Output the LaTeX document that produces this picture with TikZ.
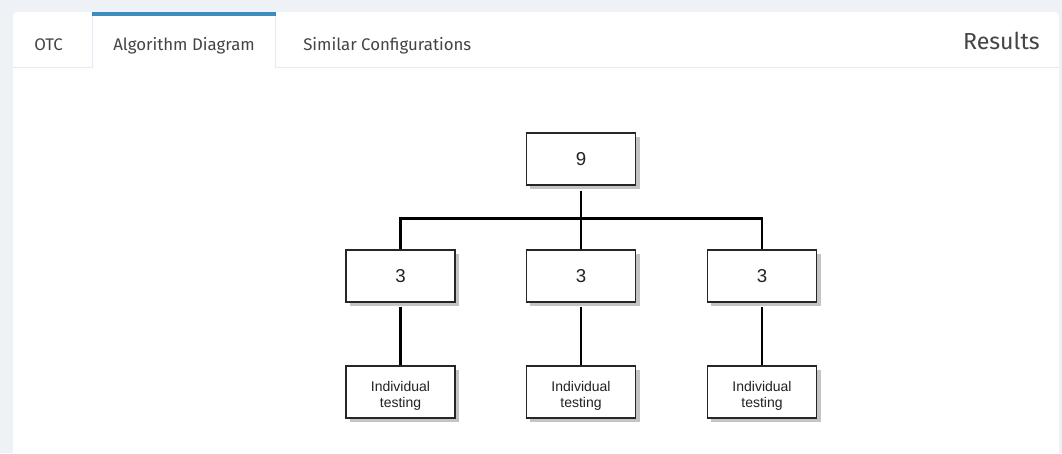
\documentclass[tikz,border=0pt]{standalone}
\usepackage{fontspec}
\setmainfont{Liberation Sans}
\newfontfamily\tabfont{Fira Sans}
\usetikzlibrary{shadows}
\definecolor{pagebg}{HTML}{EEF1F5}
\definecolor{panelline}{HTML}{E6EAF0}
\definecolor{tabblue}{HTML}{3C8DBC}
\definecolor{tabtext}{HTML}{444444}
\definecolor{boxtext}{HTML}{222222}
\definecolor{shadowgrey}{HTML}{C4C4C4}
\tikzset{
  px/.style={x=0.75pt,y=-0.75pt},
  diabox/.style={draw=black!85, line width=1.1pt, fill=white, minimum width=82pt, minimum height=39pt,
    inner sep=0pt, align=center, text=boxtext, font=\fontsize{14}{16}\selectfont,
    drop shadow={shadow xshift=3pt, shadow yshift=-3pt, fill=shadowgrey, opacity=1}},
  leafbox/.style={diabox, font=\fontsize{10.5}{12.2}\selectfont},
  conn/.style={line width=2pt, black},
  tablabel/.style={font=\tabfont\fontsize{12.6}{14}\selectfont, text=tabtext, inner sep=0pt, anchor=base west},
}
\begin{document}
\begin{tikzpicture}[px]
\useasboundingbox (0,0) rectangle (1062,453);
% page background and panel
\fill[pagebg] (0,0) rectangle (1062,453);
\fill[white, rounded corners=3pt] (13,12) rectangle (1059,470);
\draw[panelline, line width=0.75pt] (13,68) -- (92,68);
\draw[panelline, line width=0.75pt] (275,68) -- (1059,68);
% active tab
\draw[panelline, line width=0.75pt] (92,16) -- (92,68);
\draw[panelline, line width=0.75pt] (275,16) -- (275,68);
\fill[tabblue] (92,12.5) rectangle (276,16.5);
% tab labels
\node[tablabel] (tab1) at (34,50.5) {OTC};
\node[tablabel] (tab2) at (113,50.5) {Algorithm Diagram};
\node[tablabel] (tab3) at (303,50.5) {Similar Configurations};
\node[font=\tabfont\fontsize{17.4}{19}\selectfont, text=tabtext, inner sep=0pt, anchor=base east] (results) at (1040,50) {Results};
% diagram
\node[diabox] (root) at (581,159) {9};
\node[diabox] (m1) at (400.5,276) {3};
\node[diabox] (m2) at (581,276) {3};
\node[diabox] (m3) at (762,276) {3};
\node[leafbox] (l1) at (400.5,392) {\rule{0pt}{13pt}Individual\\testing};
\node[leafbox] (l2) at (581,392) {\rule{0pt}{13pt}Individual\\testing};
\node[leafbox] (l3) at (762,392) {\rule{0pt}{13pt}Individual\\testing};
\coordinate (bus) at ([yshift=-24.75pt]root.south);
\draw[conn] (m1.north) |- (bus) -| (m3.north);
\draw[conn, shorten <=3.75pt] (root.south) -- (m2.north);
\draw[conn, shorten <=3pt] (m1.south) -- (l1.north);
\draw[conn, shorten <=3pt] (m2.south) -- (l2.north);
\draw[conn, shorten <=3pt] (m3.south) -- (l3.north);
\end{tikzpicture}
\end{document}
